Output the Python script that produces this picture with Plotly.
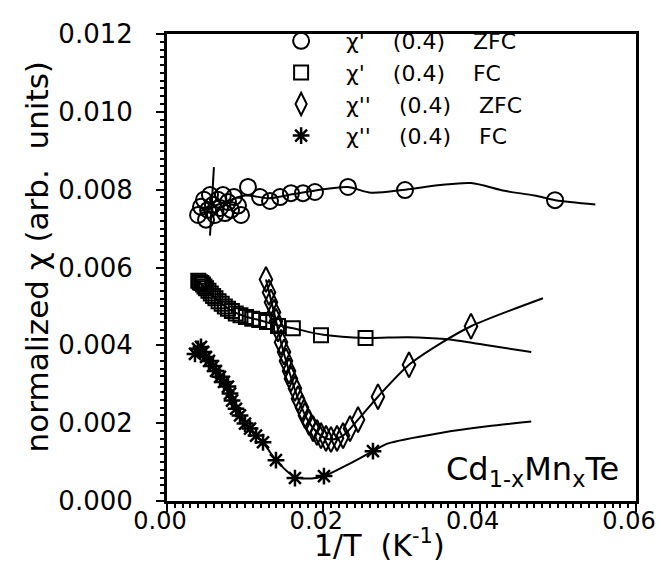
import plotly.graph_objects as go

# ---- chi' ZFC (circles) ----
zfc1_x = [0.00397, 0.00435, 0.00473, 0.00499, 0.00525, 0.00550, 0.00588, 0.00614, 0.00652,
          0.00678, 0.00716, 0.00742, 0.00780, 0.00819, 0.00857, 0.00908, 0.00947, 0.01036,
          0.01190, 0.01318, 0.01446, 0.01586, 0.01740, 0.01893, 0.02315, 0.03045, 0.04964]
zfc1_y = [0.00735, 0.00756, 0.00774, 0.00723, 0.00748, 0.00786, 0.00761, 0.00735, 0.00774,
          0.00753, 0.00786, 0.00740, 0.00768, 0.00748, 0.00781, 0.00759, 0.00735, 0.00807,
          0.00781, 0.00771, 0.00781, 0.00791, 0.00791, 0.00794, 0.00807, 0.00799, 0.00773]
zfc1_fit_x = [0.0042, 0.0070, 0.0100, 0.0130, 0.0160, 0.0190, 0.0231, 0.0261, 0.0305,
              0.0350, 0.0389, 0.0432, 0.0470, 0.0497, 0.0548]
zfc1_fit_y = [0.00745, 0.00765, 0.00785, 0.00778, 0.00788, 0.00798, 0.00807, 0.00792, 0.00800,
              0.00812, 0.00817, 0.00797, 0.00785, 0.00773, 0.00762]
errbar_x = [0.0060, 0.0055]
errbar_y = [0.00858, 0.00682]

# ---- chi' FC (squares) ----
fc1_x = [0.0040, 0.0042, 0.0044, 0.0046, 0.0048, 0.0050, 0.0053, 0.0056, 0.0059, 0.0062,
         0.0066, 0.0070, 0.0074, 0.0078, 0.0083, 0.0088, 0.0094, 0.0101, 0.0109, 0.0118,
         0.0128, 0.0142, 0.0161, 0.0197, 0.0254]
fc1_y = [0.00566, 0.00562, 0.00560, 0.00556, 0.00551, 0.00547, 0.00540, 0.00533, 0.00527, 0.00521,
         0.00513, 0.00507, 0.00500, 0.00494, 0.00488, 0.00482, 0.00477, 0.00473, 0.00468, 0.00465,
         0.00460, 0.00450, 0.00444, 0.00426, 0.00419]
fc1_fit_x = [0.0040, 0.0060, 0.0080, 0.0100, 0.0120, 0.0140, 0.0161, 0.0200, 0.0254, 0.0308,
             0.0356, 0.0410, 0.0466]
fc1_fit_y = [0.00566, 0.00524, 0.00492, 0.00474, 0.00464, 0.00452, 0.00444, 0.00427, 0.00419,
             0.00421, 0.00416, 0.00400, 0.00383]

# ---- chi'' ZFC (diamonds) ----
zfc2_x = [0.01266, 0.01305, 0.01330, 0.01369, 0.01394, 0.01420, 0.01458, 0.01497, 0.01522,
          0.01561, 0.01586, 0.01637, 0.01676, 0.01727, 0.01765, 0.01817, 0.01868, 0.01919,
          0.01970, 0.02034, 0.02098, 0.02175, 0.02252, 0.02341, 0.02444, 0.02699, 0.03096,
          0.03889]
zfc2_y = [0.00569, 0.00536, 0.00511, 0.00485, 0.00462, 0.00442, 0.00408, 0.00383, 0.00360,
          0.00334, 0.00314, 0.00289, 0.00263, 0.00240, 0.00220, 0.00202, 0.00186, 0.00176,
          0.00168, 0.00161, 0.00158, 0.00161, 0.00168, 0.00186, 0.00209, 0.00268, 0.00350,
          0.00449]
zfc2_fit_x = [0.01266, 0.01369, 0.01458, 0.01561, 0.01676, 0.01817, 0.01970, 0.02098, 0.02252,
              0.02444, 0.02699, 0.03096, 0.03500, 0.03889, 0.04810]
zfc2_fit_y = [0.00569, 0.00485, 0.00408, 0.00334, 0.00263, 0.00202, 0.00168, 0.00158, 0.00168,
              0.00209, 0.00268, 0.00350, 0.00405, 0.00449, 0.00521]

# ---- chi'' FC (stars) ----
fc2_x = [0.00358, 0.00397, 0.00435, 0.00461, 0.00499, 0.00537, 0.00588, 0.00627, 0.00678,
         0.00729, 0.00780, 0.00806, 0.00832, 0.00883, 0.00934, 0.00998, 0.01062, 0.01139,
         0.01228, 0.01394, 0.01637, 0.02008, 0.02635]
fc2_y = [0.00378, 0.00391, 0.00396, 0.00383, 0.00370, 0.00360, 0.00347, 0.00334, 0.00319,
         0.00306, 0.00294, 0.00276, 0.00258, 0.00237, 0.00220, 0.00199, 0.00186, 0.00168,
         0.00151, 0.00105, 0.00059, 0.00064, 0.00128]
fc2_fit_x = [0.00358, 0.00499, 0.00627, 0.00780, 0.00883, 0.00998, 0.01139, 0.01228, 0.01394,
             0.01637, 0.01850, 0.02008, 0.02300, 0.02635, 0.02830, 0.03500, 0.04100, 0.04660]
fc2_fit_y = [0.00380, 0.00370, 0.00334, 0.00294, 0.00237, 0.00199, 0.00168, 0.00151, 0.00105,
             0.00062, 0.00058, 0.00064, 0.00092, 0.00128, 0.00148, 0.00175, 0.00192, 0.00204]

x_ticks = [0.00, 0.02, 0.04, 0.06]
y_ticks = [0.000, 0.002, 0.004, 0.006, 0.008, 0.010, 0.012]

FONT = "DejaVu Sans, Liberation Sans, sans-serif"
NB = "\u00a0"

fig = go.Figure()

def curve(x, y):
    fig.add_trace(go.Scatter(x=x, y=y, mode="lines", showlegend=False, hoverinfo="skip",
                             line=dict(color="black", width=2, shape="spline", smoothing=0.8)))

curve(zfc1_fit_x, zfc1_fit_y)
curve(fc1_fit_x, fc1_fit_y)
curve(zfc2_fit_x, zfc2_fit_y)
curve(fc2_fit_x, fc2_fit_y)
fig.add_trace(go.Scatter(x=errbar_x, y=errbar_y, mode="lines", showlegend=False,
                         line=dict(color="black", width=2)))

fig.add_trace(go.Scatter(x=zfc1_x, y=zfc1_y, mode="markers",
                         name="χ'" + NB * 4 + "(0.4)" + NB * 4 + "ZFC",
                         marker=dict(symbol="circle-open", size=16, color="black",
                                     line=dict(width=2, color="black"))))
fig.add_trace(go.Scatter(x=fc1_x, y=fc1_y, mode="markers",
                         name="χ'" + NB * 4 + "(0.4)" + NB * 4 + "FC",
                         marker=dict(symbol="square-open", size=14, color="black",
                                     line=dict(width=2, color="black"))))
fig.add_trace(go.Scatter(x=zfc2_x, y=zfc2_y, mode="markers",
                         name="χ''" + NB * 4 + "(0.4)" + NB * 4 + "ZFC",
                         marker=dict(symbol="diamond-tall-open", size=18, color="black",
                                     line=dict(width=2, color="black"))))
fig.add_trace(go.Scatter(x=fc2_x, y=fc2_y, mode="markers",
                         name="χ''" + NB * 4 + "(0.4)" + NB * 4 + "FC",
                         marker=dict(symbol="asterisk-open", size=14, color="black",
                                     line=dict(width=2.5, color="black"))))

fig.update_layout(
    width=668, height=562,
    margin=dict(l=159, r=40, t=23, b=69),
    paper_bgcolor="white", plot_bgcolor="white",
    font=dict(family=FONT, color="black", size=24),
    legend=dict(x=0.19, y=1.03, xanchor="left", yanchor="top",
                bgcolor="rgba(0,0,0,0)", font=dict(size=22, family=FONT),
                itemwidth=80, tracegroupgap=0),
    xaxis=dict(range=[0, 0.06], tickvals=x_ticks, tickformat=".2f",
               showgrid=False, zeroline=False, showline=True, linewidth=3, linecolor="black",
               mirror=True, ticks="outside", ticklen=8, tickwidth=2, tickcolor="black",
               tickfont=dict(size=24, family=FONT), ticklabelstandoff=-12,
               ticklabelshift=-7,
               minor=dict(dtick=0.001, ticks="outside", ticklen=4, tickwidth=1.5,
                          tickcolor="black", showgrid=False)),
    yaxis=dict(range=[0, 0.012], tickvals=y_ticks, tickformat=".3f",
               showgrid=False, zeroline=False, showline=True, linewidth=3, linecolor="black",
               mirror=True, ticks="outside", ticklen=8, tickwidth=2, tickcolor="black",
               tickfont=dict(size=26, family=FONT), ticklabelstandoff=18,
               minor=dict(dtick=0.0002, ticks="outside", ticklen=4, tickwidth=1.5,
                          tickcolor="black", showgrid=False)),
    annotations=[
        dict(text="1/T" + NB * 2 + "(K<sup>-1</sup>)", xref="paper", yref="paper",
             x=0.454, y=-0.137, xanchor="center", yanchor="bottom", showarrow=False,
             font=dict(size=30, family=FONT)),
        dict(text="normalized" + NB + "χ" + NB + "(arb." + NB + NB + "units)", xref="paper",
             yref="paper", x=-0.278, y=0.523, xanchor="center", yanchor="middle",
             textangle=-90, showarrow=False, font=dict(size=31, family=FONT)),
        dict(text="Cd<sub>1-x</sub>Mn<sub>x</sub>Te", xref="paper", yref="paper",
             x=0.968, y=0.015, xanchor="right", yanchor="bottom", showarrow=False,
             font=dict(size=32, family=FONT)),
    ],
)

fig.write_html("out.html")
